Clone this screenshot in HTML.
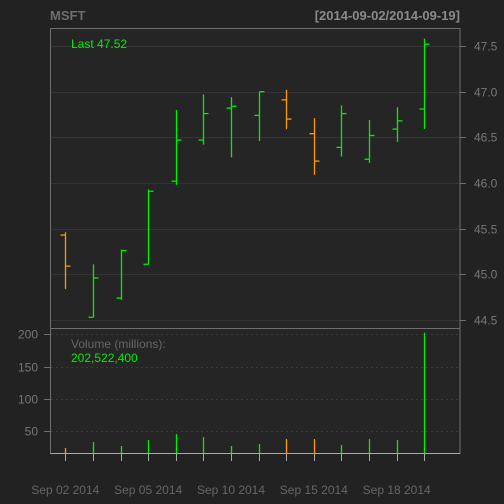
<!DOCTYPE html>
<html><head><meta charset="utf-8"><style>
html,body{margin:0;padding:0;background:#222222;}
svg{display:block;font-family:"Liberation Sans",sans-serif;}
</style></head><body>
<svg id="chart" width="504" height="504">
<rect x="0" y="0" width="504" height="504" fill="#222222"/>
<rect x="50.5" y="28.5" width="409.5" height="425" fill="#252525"/>
<text x="50" y="20" font-size="13" font-weight="bold" fill="#6e6e6e">MSFT</text>
<text x="460" y="20" font-size="13" font-weight="bold" text-anchor="end" fill="#8a8a8a">[2014-09-02/2014-09-19]</text>
<g id="grid"></g>
<g id="marks"></g>
<g id="axes"></g>
<rect x="50.5" y="28.5" width="409.5" height="425" fill="none" stroke="#6e6e6e"/>
<line x1="50.5" y1="328.5" x2="460" y2="328.5" stroke="#6e6e6e"/>
<line x1="50.5" y1="453.5" x2="460" y2="453.5" stroke="#aaaaaa"/>
<text x="71" y="48" font-size="12" fill="#00ee00">Last 47.52</text>
<text x="71" y="348" font-size="12" fill="#666666">Volume (millions):</text>
<text x="71" y="362" font-size="12" fill="#00ee00">202,522,400</text>
</svg>
<script>
const dates = ["Sep 02 2014","Sep 03 2014","Sep 04 2014","Sep 05 2014","Sep 08 2014","Sep 09 2014","Sep 10 2014","Sep 11 2014","Sep 12 2014","Sep 15 2014","Sep 16 2014","Sep 17 2014","Sep 18 2014","Sep 19 2014"];
const opens  = [45.43,44.53,44.74,45.11,46.02,46.47,46.82,46.74,46.91,46.54,46.39,46.26,46.59,46.81];
const highs  = [45.46,45.11,45.27,45.93,46.80,46.97,46.94,47.00,47.02,46.71,46.85,46.69,46.83,47.58];
const lows   = [44.84,44.53,44.72,45.11,45.98,46.42,46.28,46.46,46.59,46.09,46.29,46.22,46.45,46.59];
const closes = [45.09,44.96,45.26,45.91,46.47,46.76,46.84,47.00,46.70,46.24,46.76,46.52,46.68,47.52];
const volumes = [24,33.4,27.2,36.4,45.6,41,27.2,30.3,38,38,28.8,38,36.4,202.5];
const priceTicks = [44.5,45.0,45.5,46.0,46.5,47.0,47.5];
const volTicks = [50,100,150,200];
const xLabelIdx = [0,3,6,9,12];

const NS="http://www.w3.org/2000/svg";
const xs = i => 65.3 + i*27.615;
const yP = p => 46 + (47.5-p)*91.33;
const yV = v => 463.6 - v*0.6467;
function mk(parent,tag,attrs){const e=document.createElementNS(NS,tag);for(const k in attrs)e.setAttribute(k,attrs[k]);document.getElementById(parent).appendChild(e);return e;}

priceTicks.forEach(p=>{
  const y=Math.round(yP(p))+0.5;
  let g=mk('grid','line',{x1:51,y1:y,x2:460,y2:y,stroke:'#333333'});
  
  
  let t=mk('axes','line',{x1:460,y1:y,x2:466,y2:y,stroke:'#6e6e6e'});
  
  
  let l=mk('axes','text',{x:474,y:y+4,'font-size':12,fill:'#777777'});
  l.textContent=p.toFixed(1);
  
  
});
volTicks.forEach(v=>{
  const y=Math.round(yV(v))+0.5;
  let g=mk('grid','line',{x1:51,y1:y,x2:460,y2:y,stroke:'#3a3a3a','stroke-dasharray':'2,3'});
  
  
  let t=mk('axes','line',{x1:44,y1:y,x2:50,y2:y,stroke:'#6e6e6e'});
  
  
  let l=mk('axes','text',{x:38,y:y+4,'font-size':12,fill:'#777777','text-anchor':'end'});
  l.textContent=v;
  
  
});
dates.forEach((d,i)=>{
  const x=Math.round(xs(i))+0.5;
  const col = closes[i]>=opens[i] ? '#00ee00' : '#ff9900';
  let hl=mk('marks','line',{x1:x,y1:yP(highs[i]),x2:x,y2:yP(lows[i]),stroke:col,'stroke-width':1.3});
  
  
  let o=mk('marks','line',{x1:x-5,y1:yP(opens[i]),x2:x,y2:yP(opens[i]),stroke:col,'stroke-width':1.3});
  
  
  let c=mk('marks','line',{x1:x,y1:yP(closes[i]),x2:x+5,y2:yP(closes[i]),stroke:col,'stroke-width':1.3});
  
  
  let v=mk('marks','line',{x1:x,y1:453,x2:x,y2:yV(volumes[i]),stroke:col,'stroke-width':1.3});
  
  
  let t=mk('axes','line',{x1:x,y1:454,x2:x,y2:461,stroke:'#aaaaaa'});
  
  
});
xLabelIdx.forEach(i=>{
  let l=mk('axes','text',{x:xs(i),y:494,'font-size':12,fill:'#666666','text-anchor':'middle'});
  l.textContent=dates[i];
  
  
});
</script>
</body></html>
